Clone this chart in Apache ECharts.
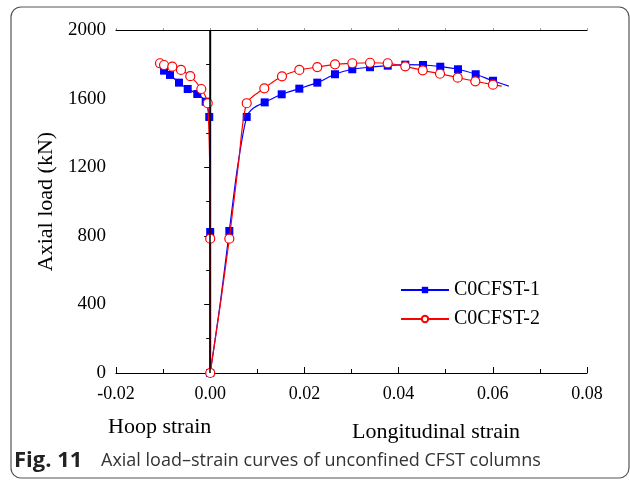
<!DOCTYPE html>
<html>
<head>
<meta charset="utf-8">
<script src="https://cdn.jsdelivr.net/npm/echarts@6/dist/echarts.min.js"></script>
<style>html,body{margin:0;padding:0;background:#fff;}#c{width:630px;height:482px;}</style>
</head>
<body>
<div id="c"></div>
<script>
const seriesNames = ['C0CFST-1', 'C0CFST-2'];
const xTicks = [-0.02, 0.00, 0.02, 0.04, 0.06, 0.08];
const yTicks = [0, 400, 800, 1200, 1600, 2000];

// C0CFST-1: hoop branch (negative) then longitudinal branch
const c1Strain = [-0.0098, -0.00854, -0.00662, -0.00478, -0.00274, -0.00096, -0.0002, 0, 0,
  0.0021, 0.00406, 0.0058, 0.00775, 0.0092, 0.01157, 0.01518, 0.01892, 0.02274, 0.0265, 0.03017,
  0.03393, 0.03769, 0.04142, 0.04518, 0.04885, 0.05261, 0.05637, 0.06004, 0.0634];
const c1Load = [1763, 1738, 1693, 1656, 1627, 1582, 1493, 822, 0,
  400, 828, 1200, 1493, 1545, 1578, 1625, 1658, 1693, 1742, 1771,
  1783, 1792, 1798, 1796, 1786, 1771, 1742, 1704, 1673];
const c1Measured = [1,1,1,1,1,1,1,1,1, 0,1,0,1,0,1,1,1,1,1,1, 1,1,1,1,1,1,1,1,0];

// C0CFST-2
const c2Strain = [-0.01066, -0.0098, -0.00805, -0.0062, -0.00423, -0.00189, -0.00053, 0, 0,
  0.0021, 0.00406, 0.006, 0.00775, 0.01149, 0.01524, 0.01892, 0.02274, 0.0265, 0.03017,
  0.03393, 0.03769, 0.04142, 0.04512, 0.04879, 0.05255, 0.05629, 0.06004, 0.0619];
const c2Load = [1806, 1796, 1786, 1767, 1731, 1656, 1573, 783, 0,
  390, 783, 1220, 1573, 1660, 1730, 1767, 1784, 1800, 1806,
  1809, 1806, 1788, 1765, 1745, 1722, 1701, 1681, 1673];
const c2Measured = [1,1,1,1,1,1,1,1,1, 0,1,0,1,1,1,1,1,1,1, 1,1,1,1,1,1,1,1,0];

function build(xs, ys, flags) {
  return xs.map((x, i) => flags[i] ? [x, ys[i]] : { value: [x, ys[i]], symbol: 'none' });
}

const serif = 'Liberation Serif';
const chart = echarts.init(document.getElementById('c'), null, { renderer: 'canvas' });
chart.setOption({
  animation: false,
  backgroundColor: '#fff',
  grid: { left: 116, right: 43, top: 30, bottom: 109, containLabel: false },
  legend: {
    data: seriesNames,
    orient: 'vertical',
    left: 400, top: 280,
    itemWidth: 48, itemHeight: 8, itemGap: 9, padding: 0,
    textStyle: { fontFamily: serif, fontSize: 20, color: '#000' }
  },
  xAxis: [{
    type: 'value', min: xTicks[0], max: xTicks[xTicks.length - 1], interval: 0.02,
    axisLine: { lineStyle: { color: '#000', width: 1.2 } },
    axisTick: { inside: true, length: 6, lineStyle: { color: '#000' } },
    minorTick: { show: true, splitNumber: 2, length: 4, lineStyle: { color: '#000' } },
    splitLine: { show: false },
    axisLabel: { fontFamily: serif, fontSize: 18, color: '#000', margin: 12,
      formatter: v => v.toFixed(2) }
  }, {
    type: 'value', position: 'top', min: -0.02, max: 0.08, interval: 0.01,
    axisLine: { show: true, onZero: false, lineStyle: { color: '#000', width: 1.2 } },
    axisTick: { show: true, length: 2, lineStyle: { color: '#999' } },
    axisLabel: { show: false }, splitLine: { show: false }
  }],
  yAxis: [{
    type: 'value', min: yTicks[0], max: yTicks[yTicks.length - 1], interval: 400,
    name: 'Axial load (kN)', nameLocation: 'middle', nameGap: 56,
    nameTextStyle: { fontFamily: serif, fontSize: 22, color: '#000' },
    axisLine: { show: true, lineStyle: { color: '#000', width: 1.2 } },
    axisTick: { show: true, length: 6, lineStyle: { color: '#000' } },
    minorTick: { show: true, splitNumber: 2, length: 4, lineStyle: { color: '#000' } },
    splitLine: { show: false },
    axisLabel: { fontFamily: serif, fontSize: 19, color: '#000', margin: 10,
      formatter: v => String(v) }
  }, {
    type: 'value', position: 'right', min: 0, max: 2000,
    axisLine: { show: true, lineStyle: { color: '#000', width: 1.2 } },
    axisTick: { show: false }, axisLabel: { show: false }, splitLine: { show: false }
  }],
  series: [{
    name: seriesNames[0], type: 'line', smooth: 0.25,
    data: build(c1Strain, c1Load, c1Measured),
    symbol: 'rect', symbolSize: 8, showAllSymbol: true,
    lineStyle: { color: '#0000ff', width: 1.2 },
    itemStyle: { color: '#0000ff', borderWidth: 0 },
    markLine: {
      silent: true, symbol: 'none', label: { show: false },
      lineStyle: { color: '#000', width: 1.5, type: 'solid' },
      data: [{ xAxis: 0 }]
    },
    z: 3
  }, {
    name: seriesNames[1], type: 'line', smooth: 0.25,
    data: build(c2Strain, c2Load, c2Measured),
    symbol: 'circle', symbolSize: 9, showAllSymbol: true,
    lineStyle: { color: '#ff0000', width: 1.2 },
    itemStyle: { color: '#ffffff', borderColor: '#ff0000', borderWidth: 1.2 },
    z: 4
  }],
  graphic: [
    { type: 'rect', shape: { x: 11, y: 7, width: 618, height: 471, r: 10 },
      style: { fill: 'none', stroke: '#555', lineWidth: 1.2 }, silent: true, z: -1 },
    { type: 'text', left: 108, top: 416, style: { text: 'Hoop strain', font: '22px "Liberation Serif"', fill: '#000' } },
    { type: 'text', left: 352, top: 421, style: { text: 'Longitudinal strain', font: '22px "Liberation Serif"', fill: '#000' } },
    { type: 'text', left: 14, top: 450, style: { text: 'Fig. 11', font: 'bold 22px "Open Sans"', fill: '#222' } },
    { type: 'text', left: 101, top: 452, style: { text: 'Axial load–strain curves of unconfined CFST columns', font: '18px "Open Sans"', fill: '#333' } }
  ]
});
</script>
</body>
</html>
